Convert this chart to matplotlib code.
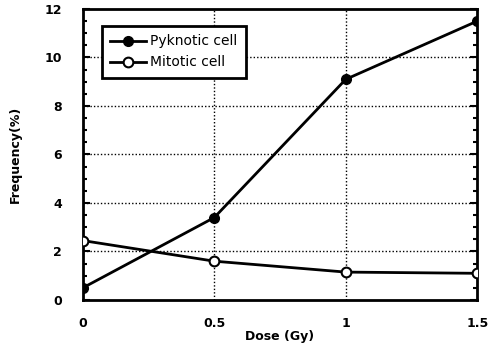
import matplotlib
matplotlib.use("Agg")
import matplotlib.pyplot as plt
from matplotlib.ticker import MultipleLocator

# --- Data ---
dose = [0, 0.5, 1, 1.5]
pyknotic = [0.5, 3.4, 9.1, 11.5]
mitotic = [2.45, 1.6, 1.15, 1.1]

x_ticks = [0, 0.5, 1, 1.5]
x_labels = ["0", "0.5", "1", "1.5"]
y_ticks = [0, 2, 4, 6, 8, 10, 12]

# --- Figure ---
fig = plt.figure(figsize=(4.93, 3.46), dpi=100)
ax = fig.add_axes([0.168, 0.133, 0.800, 0.841])

ax.plot(dose, pyknotic, color="black", lw=2, marker="o", ms=7,
        mfc="black", mec="black", label="Pyknotic cell", zorder=3)
ax.plot(dose, mitotic, color="black", lw=2, marker="o", ms=7,
        mfc="white", mec="black", mew=1.5, label="Mitotic cell", zorder=3)

ax.set_xlim(0, 1.5)
ax.set_ylim(0, 12)
ax.set_xticks(x_ticks)
ax.set_xticklabels(x_labels)
ax.set_yticks(y_ticks)
ax.yaxis.set_minor_locator(MultipleLocator(0.5))

# dotted grid
for yv in y_ticks[1:-1]:
    ax.axhline(yv, color="black", ls=(0, (1, 1.5)), lw=1, zorder=1)
for xv in x_ticks[1:-1]:
    ax.axvline(xv, color="black", ls=(0, (1, 1.5)), lw=1, zorder=1)

for s in ax.spines.values():
    s.set_linewidth(2)

ax.tick_params(axis="y", which="both", direction="in", left=True, right=True,
               labelsize=9, width=1.5)
ax.tick_params(axis="y", which="major", length=5, pad=15)
ax.tick_params(axis="y", which="minor", length=3)
ax.tick_params(axis="x", length=0, labelsize=9, pad=12)
for lab in ax.get_xticklabels() + ax.get_yticklabels():
    lab.set_fontweight("bold")

ax.set_xlabel("Dose (Gy)", fontsize=9, fontweight="bold", labelpad=0)
ax.set_ylabel("Frequency(%)", fontsize=9, fontweight="bold", labelpad=16)

leg = ax.legend(loc="upper left", bbox_to_anchor=(0.03, 0.965), fontsize=10,
                frameon=True, fancybox=False, edgecolor="black",
                handlelength=2.6, borderpad=0.6, labelspacing=0.5,
                handletextpad=0.3)
leg.get_frame().set_linewidth(2)
leg.get_frame().set_alpha(1)

fig.savefig("out.png", dpi=100, facecolor="white")
